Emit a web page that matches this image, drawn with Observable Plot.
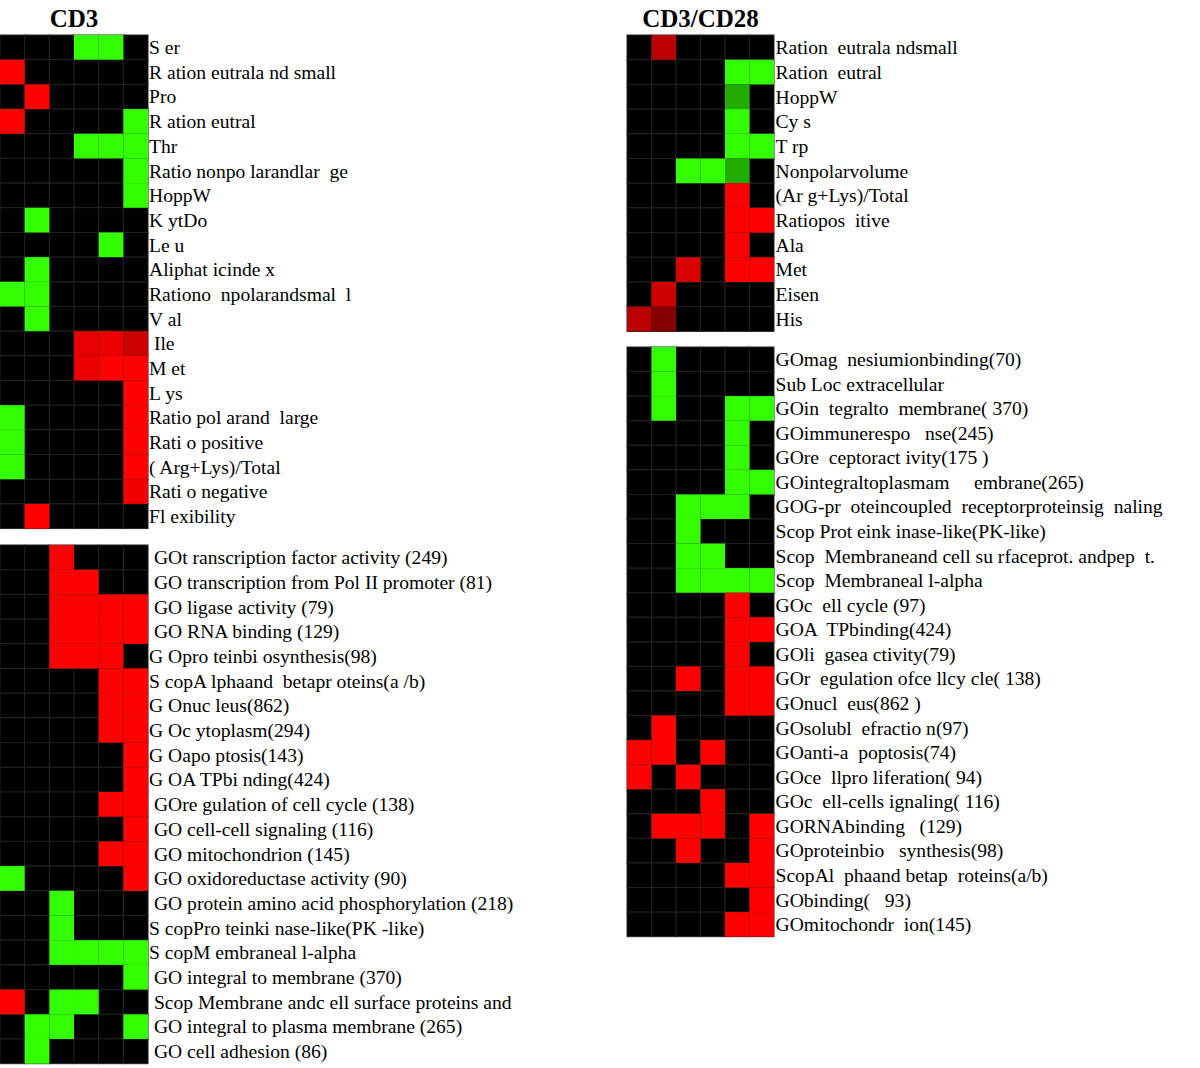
<!DOCTYPE html>
<html>
<head>
<meta charset="utf-8">
<script src="https://cdn.jsdelivr.net/npm/d3@7"></script>
<script src="https://cdn.jsdelivr.net/npm/@observablehq/plot@0.6"></script>
<style>
  html, body { margin: 0; padding: 0; background: #fff; }
  #root { position: relative; width: 1200px; height: 1068px; background: #fff; overflow: hidden; }
  .panel { position: absolute; display: block; }
  .title { position: absolute; font-family: "Liberation Serif", "Times New Roman", serif; font-weight: bold; font-size: 25px; line-height: 1; color: #000; transform: translateX(-50%); white-space: nowrap; }
  svg text { white-space: pre; }
</style>
</head>
<body>
<div id="root"></div>
<script>
// ---------- DATA ----------
const columns = [1, 2, 3, 4, 5, 6];

// CD3 – physico-chemical properties
const cd3TopLabels = [
  "S er", "R ation eutrala nd small", "Pro", "R ation eutral", "Thr",
  "Ratio nonpo larandlar  ge", "HoppW", "K ytDo", "Le u", "Aliphat icinde x",
  "Rationo  npolarandsmal  l", "V al", " Ile", "M et", "L ys",
  "Ratio pol arand  large", "Rati o positive", "( Arg+Lys)/Total", "Rati o negative", "Fl exibility"
];
const cd3TopValues = [
  [0, 0, 0, -1, -1, 0],
  [1, 0, 0, 0, 0, 0],
  [0, 1, 0, 0, 0, 0],
  [1, 0, 0, 0, 0, -1],
  [0, 0, 0, -1, -1, -1],
  [0, 0, 0, 0, 0, -1],
  [0, 0, 0, 0, 0, -1],
  [0, -1, 0, 0, 0, 0],
  [0, 0, 0, 0, -1, 0],
  [0, -1, 0, 0, 0, 0],
  [-1, -1, 0, 0, 0, 0],
  [0, -1, 0, 0, 0, 0],
  [0, 0, 0, 0.9, 0.92, 0.8],
  [0, 0, 0, 0.92, 1, 1],
  [0, 0, 0, 0, 0, 1],
  [-1, 0, 0, 0, 0, 1],
  [-1, 0, 0, 0, 0, 1],
  [-1, 0, 0, 0, 0, 1],
  [0, 0, 0, 0, 0, 0.95],
  [0, 1, 0, 0, 0, 0]
];

// CD3 – GO / SCOP terms
const cd3BottomLabels = [
  " GOt ranscription factor activity (249)", " GO transcription from Pol II promoter (81)",
  " GO ligase activity (79)", " GO RNA binding (129)", "G Opro teinbi osynthesis(98)",
  "S copA lphaand  betapr oteins(a /b)", "G Onuc leus(862)", "G Oc ytoplasm(294)",
  "G Oapo ptosis(143)", "G OA TPbi nding(424)", " GOre gulation of cell cycle (138)",
  " GO cell-cell signaling (116)", " GO mitochondrion (145)", " GO oxidoreductase activity (90)",
  " GO protein amino acid phosphorylation (218)", "S copPro teinki nase-like(PK -like)",
  "S copM embraneal l-alpha", " GO integral to membrane (370)",
  " Scop Membrane andc ell surface proteins and", " GO integral to plasma membrane (265)",
  " GO cell adhesion (86)"
];
const cd3BottomValues = [
  [0, 0, 1, 0, 0, 0],
  [0, 0, 1, 1, 0, 0],
  [0, 0, 1, 1, 1, 1],
  [0, 0, 1, 1, 1, 1],
  [0, 0, 1, 1, 1, 0],
  [0, 0, 0, 0, 1, 1],
  [0, 0, 0, 0, 1, 1],
  [0, 0, 0, 0, 1, 1],
  [0, 0, 0, 0, 0, 1],
  [0, 0, 0, 0, 0, 1],
  [0, 0, 0, 0, 1, 1],
  [0, 0, 0, 0, 0, 1],
  [0, 0, 0, 0, 1, 1],
  [-1, 0, 0, 0, 0, 1],
  [0, 0, -1, 0, 0, 0],
  [0, 0, -1, 0, 0, 0],
  [0, 0, -1, -1, -1, -1],
  [0, 0, 0, 0, 0, -1],
  [1, 0, -1, -1, 0, 0],
  [0, -1, -1, 0, 0, -1],
  [0, -1, 0, 0, 0, 0]
];

// CD3/CD28 – physico-chemical properties
const cd28TopLabels = [
  "Ration  eutrala ndsmall", "Ration  eutral", "HoppW", "Cy s", "T rp", "Nonpolarvolume",
  "(Ar g+Lys)/Total", "Ratiopos  itive", "Ala", "Met", "Eisen", "His"
];
const cd28TopValues = [
  [0, 0.73, 0, 0, 0, 0],
  [0, 0, 0, 0, -1, -1],
  [0, 0, 0, 0, -0.67, 0],
  [0, 0, 0, 0, -1, 0],
  [0, 0, 0, 0, -1, -1],
  [0, 0, -1, -1, -0.67, 0],
  [0, 0, 0, 0, 1, 0],
  [0, 0, 0, 0, 1, 1],
  [0, 0, 0, 0, 1, 0],
  [0, 0, 0.85, 0, 1, 1],
  [0, 0.8, 0, 0, 0, 0],
  [0.72, 0.52, 0, 0, 0, 0]
];

// CD3/CD28 – GO / SCOP terms
const cd28BottomLabels = [
  "GOmag  nesiumionbinding(70)", "Sub Loc extracellular", "GOin  tegralto  membrane( 370)",
  "GOimmunerespo   nse(245)", "GOre  ceptoract ivity(175 )", "GOintegraltoplasmam     embrane(265)",
  "GOG-pr  oteincoupled  receptorproteinsig  naling", "Scop Prot eink inase-like(PK-like)",
  "Scop  Membraneand cell su rfaceprot. andpep  t.", "Scop  Membraneal l-alpha",
  "GOc  ell cycle (97)", "GOA  TPbinding(424)", "GOli  gasea ctivity(79)",
  "GOr  egulation ofce llcy cle( 138)", "GOnucl  eus(862 )", "GOsolubl  efractio n(97)",
  "GOanti-a  poptosis(74)", "GOce  llpro liferation( 94)", "GOc  ell-cells ignaling( 116)",
  "GORNAbinding   (129)", "GOproteinbio   synthesis(98)", "ScopAl  phaand betap  roteins(a/b)",
  "GObinding(   93)", "GOmitochondr  ion(145)"
];
const cd28BottomValues = [
  [0, -1, 0, 0, 0, 0],
  [0, -1, 0, 0, 0, 0],
  [0, -1, 0, 0, -1, -1],
  [0, 0, 0, 0, -1, 0],
  [0, 0, 0, 0, -1, 0],
  [0, 0, 0, 0, -1, -1],
  [0, 0, -1, -1, -1, 0],
  [0, 0, -1, 0, 0, 0],
  [0, 0, -1, -1, 0, 0],
  [0, 0, -1, -1, -1, -1],
  [0, 0, 0, 0, 1, 0],
  [0, 0, 0, 0, 1, 1],
  [0, 0, 0, 0, 1, 0],
  [0, 0, 1, 0, 1, 1],
  [0, 0, 0, 0, 1, 1],
  [0, 1, 0, 0, 0, 0],
  [1, 1, 0, 1, 0, 0],
  [1, 0, 1, 0, 0, 0],
  [0, 0, 0, 1, 0, 0],
  [0, 1, 1, 1, 0, 1],
  [0, 0, 1, 0, 0, 1],
  [0, 0, 0, 0, 1, 1],
  [0, 0, 0, 0, 0, 1],
  [0, 0, 0, 0, 1, 1]
];

const titles = ["CD3", "CD3/CD28"];

// ---------- DRAWING ----------
const root = document.getElementById("root");
const FONT = "'Liberation Serif', 'Times New Roman', serif";

function panel(labels, values, opts) {
  const data = labels.flatMap((row, i) => columns.map((col, j) => ({row, col, v: values[i][j]})));
  const gridW = opts.cellW * columns.length;
  const height = opts.cellH * labels.length;
  const chart = Plot.plot({
    width: gridW + opts.labelW,
    height,
    marginLeft: 0,
    marginRight: opts.labelW,
    marginTop: 0,
    marginBottom: 0,
    style: {fontFamily: FONT, fontSize: "19.6px", background: "transparent", color: "#000", overflow: "visible"},
    x: {type: "band", domain: columns, padding: 0, round: false, axis: null},
    y: {type: "band", domain: labels, padding: 0, round: false, axis: "right", tickSize: 0, tickPadding: opts.pad, label: null},
    color: {type: "linear", domain: [-1, 0, 1], range: ["#33ff00", "#000000", "#ff0000"]},
    marks: [
      Plot.cell(data, {x: "col", y: "row", fill: "#000", stroke: "#222", strokeWidth: 1}),
      Plot.cell(data.filter(d => d.v !== 0), {x: "col", y: "row", fill: "v"})
    ]
  });
  chart.classList.add("panel");
  chart.style.left = opts.left + "px";
  chart.style.top = opts.top + "px";
  chart.querySelectorAll("text").forEach(t => t.setAttribute("fill", "#000"));
  root.appendChild(chart);
}

panel(cd3TopLabels, cd3TopValues, {left: 0, top: 35, cellW: 24.67, cellH: 24.68, labelW: 300, pad: 0.5});
panel(cd3BottomLabels, cd3BottomValues, {left: 0, top: 545, cellW: 24.67, cellH: 24.7, labelW: 420, pad: 0.5});
panel(cd28TopLabels, cd28TopValues, {left: 627, top: 35, cellW: 24.5, cellH: 24.7, labelW: 300, pad: 1});
panel(cd28BottomLabels, cd28BottomValues, {left: 627, top: 346.5, cellW: 24.5, cellH: 24.57, labelW: 440, pad: 1});

const titlePos = [{x: 74, y: 6}, {x: 700.5, y: 6}];
titles.forEach((t, i) => {
  const d = document.createElement("div");
  d.className = "title";
  d.textContent = t;
  d.style.left = titlePos[i].x + "px";
  d.style.top = titlePos[i].y + "px";
  root.appendChild(d);
});
</script>
</body>
</html>
